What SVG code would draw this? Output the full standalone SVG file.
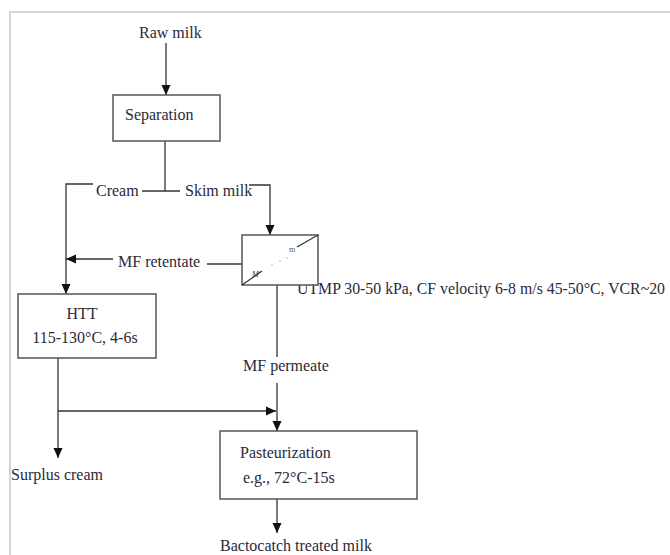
<svg xmlns="http://www.w3.org/2000/svg" width="670" height="555" viewBox="0 0 670 555">
<defs>
<marker id="ah" markerUnits="userSpaceOnUse" markerWidth="10" markerHeight="10" refX="10" refY="5" orient="auto">
<path d="M0,0.5 L10,5 L0,9.5 z" fill="#111"/>
</marker>
<style>
text{font-family:"Liberation Serif","Times New Roman",serif;font-size:16px;fill:#2a2a38}
.box{fill:#fff;stroke:#555;stroke-width:1.5}
.ln{fill:none;stroke:#333;stroke-width:1.3}
.arr{fill:none;stroke:#333;stroke-width:1.3;marker-end:url(#ah)}
.frame{fill:none;stroke:#c8c8c8;stroke-width:1.5}
</style>
</defs>
<rect width="670" height="555" fill="#fff"/>
<path class="frame" d="M10,555 L10,12 L670,12"/>

<g id="connectors">
<path class="arr" d="M166,43 L166,95"/>
<path class="ln" d="M165,141 L165,191"/>
<path class="ln" d="M142,191 L180,191"/>
<path class="arr" d="M93,184 L66,184 L66,294"/>
<path class="arr" d="M249,185 L270,185 L270,235"/>
<path class="ln" d="M207,264 L242,264"/>
<path class="arr" d="M113,259 L66,259"/>
<path class="ln" d="M277,285 L277,357"/>
<path class="arr" d="M277,383 L277,431"/>
<path class="arr" d="M58,358 L58,458"/>
<path class="arr" d="M58,411 L276,411"/>
<path class="arr" d="M277,499 L277,533"/>
</g>

<g id="raw-milk"><text x="139" y="38">Raw milk</text></g>

<g id="separation">
<rect class="box" x="113" y="95" width="107" height="46"/>
<text x="125" y="120">Separation</text>
</g>

<g id="labels">
<text x="96" y="196">Cream</text>
<text x="185" y="196">Skim milk</text>
<text x="118" y="267">MF retentate</text>
<text x="297" y="294" textLength="368" lengthAdjust="spacingAndGlyphs">UTMP 30-50 kPa, CF velocity 6-8 m/s 45-50°C, VCR~20</text>
<text x="243" y="371">MF permeate</text>
</g>

<g id="microfiltration">
<rect class="box" x="242" y="235" width="76" height="50"/>
<path class="ln" d="M242,285 L262,271"/>
<path class="ln" d="M297,247 L318,235"/>
<text x="252" y="277" style="font-size:8px;font-style:italic;fill:#334">M</text>
<text x="289" y="252" style="font-size:8px;fill:#556">m</text>
<circle cx="272" cy="265" r="0.8" fill="#bbb"/>
<circle cx="280" cy="261" r="0.8" fill="#c9b27a"/>
<circle cx="287" cy="258" r="0.8" fill="#bbb"/>
</g>

<g id="htt">
<rect class="box" x="18" y="294" width="138" height="64"/>
<text x="82" y="319" text-anchor="middle">HTT</text>
<text x="85" y="343" text-anchor="middle">115-130°C, 4-6s</text>
</g>

<g id="surplus-cream"><text x="11" y="480">Surplus cream</text></g>

<g id="pasteurization">
<rect class="box" x="220" y="431" width="197" height="68"/>
<text x="240" y="458">Pasteurization</text>
<text x="243" y="483">e.g., 72°C-15s</text>
</g>

<g id="treated-milk"><text x="220" y="551">Bactocatch treated milk</text></g>
</svg>
